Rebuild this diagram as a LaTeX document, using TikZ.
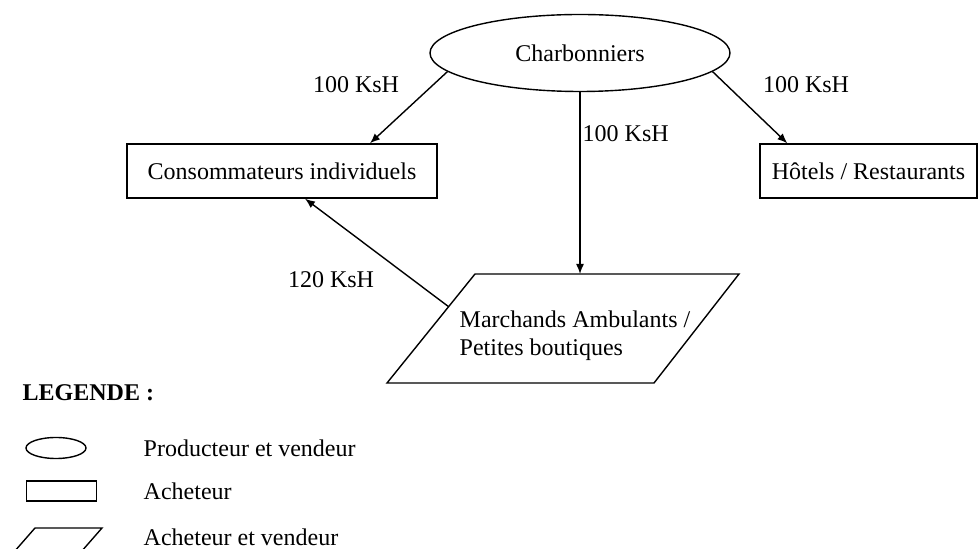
\documentclass[tikz,border=0pt]{standalone}
\usepackage{fontspec}
\setmainfont{Liberation Serif}
\usetikzlibrary{shapes.geometric,arrows.meta,calc}
\begin{document}
\begin{tikzpicture}[x=0.5pt, y=-0.5pt, font=\fontsize{12}{14}\selectfont,
  line width=0.7pt, >={Latex[length=5pt,width=4pt]},
  box/.style={draw, rectangle, minimum height=27pt, inner sep=0pt},
  oval/.style={draw, ellipse, inner sep=0pt},
  lbl/.style={inner sep=0pt}]
\useasboundingbox (0,0) rectangle (980,549);
\node [oval, minimum width=150pt, minimum height=38.5pt] (c) at (580,53) {Charbonniers};
\node [box, minimum width=155pt] (ci) at (282,171) {Consommateurs individuels};
\node [box, minimum width=108.5pt] (hr) at (868.5,171) {Hôtels / Restaurants};
% parallelogramme
\coordinate (m1) at (475,274);
\coordinate (m2) at (739,274);
\coordinate (m3) at (654,383);
\coordinate (m4) at (387,383);
\draw (m1) -- (m2) -- (m3) -- (m4) -- cycle;
\node [lbl, align=left] (ma) at (575,336) {Marchands Ambulants /\\Petites boutiques};
% prix
\node [lbl] (p1) at (356,85) {100 KsH};
\node [lbl] (p2) at (806,85) {100 KsH};
\node [lbl] (p4) at (331,280) {120 KsH};
\draw [->] (c.188) -- ([xshift=44pt]ci.north);
\draw [->] (c.-8) -- ([xshift=14pt]hr.north west);
\draw [->] (c.south) -- (c.south |- m1) node [lbl, pos=.23, right=1pt] (p3) {100 KsH};
\draw [->] ($(m1)!.3!(m4)$) -- ([xshift=11.5pt]ci.south);
% legende
\node [lbl, anchor=west, font=\fontsize{12}{14}\selectfont\bfseries] (leg) at (22,393) {LEGENDE :};
\node [oval, minimum width=30pt, minimum height=10.5pt] (l1) at (56,448) {};
\node [box, minimum width=35pt, minimum height=10pt] (l2) at (61.5,491) {};
\draw (35,528) -- (102,528) -- (74,560) -- (7,560) -- cycle;
\node [lbl, anchor=west] (t1) at (143,448) {Producteur et vendeur};
\node [lbl, anchor=west] (t2) at (143,491) {Acheteur};
\node [lbl, anchor=west] (t3) at (143,537) {Acheteur et vendeur};
\end{tikzpicture}
\end{document}
